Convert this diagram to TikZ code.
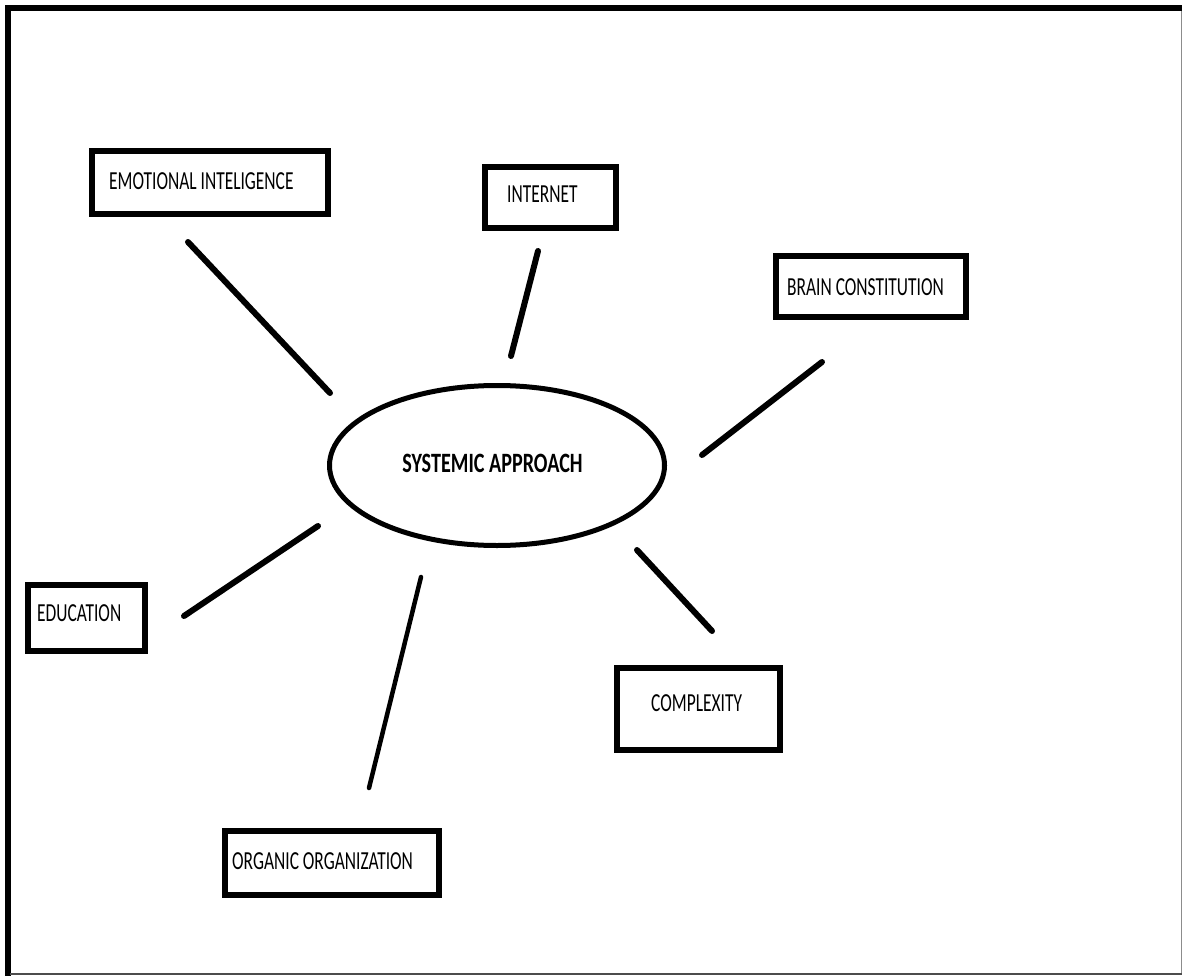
\documentclass[tikz,border=0pt]{standalone}
\usepackage{fontspec}
\setmainfont{Carlito}[FakeStretch=0.67]
\newfontfamily\hubfont{Carlito}[FakeStretch=0.72]
\usetikzlibrary{shapes.geometric}
\begin{document}
\begin{tikzpicture}[x=1pt,y=-1pt,
  box/.style={draw, line width=6pt, inner sep=0pt},
  lbl/.style={inner sep=0pt, anchor=west, font=\fontsize{26}{28}\selectfont},
  hub/.style={draw, ellipse, line width=5pt, inner sep=0pt,
    minimum width=335pt, minimum height=160pt,
    font=\hubfont\bfseries\fontsize{28}{30}\selectfont},
  spoke/.style={line width=6pt, line cap=round},
  thinspoke/.style={line width=4.5pt, line cap=round}]
\useasboundingbox (0,0) rectangle (1182,976);
\fill[white] (0,0) rectangle (1182,976);
% frame: heavy top and left edges, light right and bottom edges
\draw[line width=6pt] (7.5,976) -- (7.5,8) -- (1181.5,8);
\draw[line width=1.2pt, black!45] (1181.2,11) -- (1181.2,973.5);
\draw[line width=1.5pt, black!70] (10,973.8) -- (1181.5,973.8);

% central ellipse
\node[hub] (sa) at (497,465.5) {\hspace{-9pt}\raisebox{4pt}{SYSTEMIC APPROACH}};

% boxes
\node[box, minimum width=236pt, minimum height=63pt] (ei) at (210,182.5) {};
\node[box, minimum width=131pt, minimum height=61pt] (in) at (550.5,197.5) {};
\node[box, minimum width=190pt, minimum height=61pt] (bc) at (871,286.5) {};
\node[box, minimum width=117pt, minimum height=66pt] (ed) at (86.5,618) {};
\node[box, minimum width=163pt, minimum height=82pt] (cx) at (698.5,709) {};
\node[box, minimum width=214pt, minimum height=64pt] (oo) at (332,863) {};

% box captions
\node[lbl] (ei-t) at (109,181) {EMOTIONAL INTELIGENCE};
\node[lbl] (in-t) at (507,194) {INTERNET};
\node[lbl] (bc-t) at (787,287) {BRAIN CONSTITUTION};
\node[lbl] (ed-t) at (37,613) {EDUCATION};
\node[lbl] (cx-t) at (651,703) {COMPLEXITY};
\node[lbl] (oo-t) at (232,861) {ORGANIC ORGANIZATION};

% free-standing spokes between the hub and the boxes
\coordinate (ei-a) at (188,242); \coordinate (ei-b) at (330,393);
\coordinate (in-a) at (538,251); \coordinate (in-b) at (511,356);
\coordinate (bc-a) at (822,362); \coordinate (bc-b) at (702,455);
\coordinate (ed-a) at (318,526); \coordinate (ed-b) at (184,616);
\coordinate (oo-a) at (421,577); \coordinate (oo-b) at (369,788);
\coordinate (cx-a) at (637,550); \coordinate (cx-b) at (712,631);
\draw[spoke] (ei-a) -- (ei-b);
\draw[spoke] (in-a) -- (in-b);
\draw[spoke] (bc-a) -- (bc-b);
\draw[spoke] (ed-a) -- (ed-b);
\draw[thinspoke] (oo-a) -- (oo-b);
\draw[spoke] (cx-a) -- (cx-b);
\end{tikzpicture}
\end{document}
